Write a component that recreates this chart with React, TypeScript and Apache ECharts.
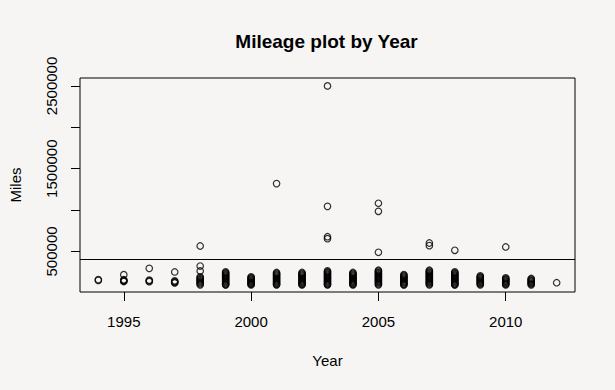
import React, { useEffect, useRef } from "react";
import * as echarts from "echarts";

const years = [1994, 1995, 1996, 1997, 1998, 1999, 2000, 2001, 2002, 2003, 2004, 2005, 2006, 2007, 2008, 2009, 2010, 2011, 2012];

const miles1994 = [160000, 150000];
const miles1995 = [219000, 158000, 150000, 143000, 137000];
const miles1996 = [296000, 153000, 145000, 135000];
const miles1997 = [252000, 145000, 135000, 127000, 119000];
const miles1998 = [566000, 324000, 264000, 194000, 182000, 170000, 158000, 146000, 134000, 122000, 110000, 97000];
const miles1999 = [254000, 243000, 232000, 221000, 210000, 199000, 188000, 177000, 166000, 155000, 144000, 133000, 122000, 111000, 100000, 97000];
const miles2000 = [194000, 184000, 174000, 164000, 154000, 144000, 134000, 124000, 114000, 104000, 97000];
const miles2001 = [1320000, 246000, 235000, 224000, 213000, 202000, 191000, 180000, 169000, 158000, 147000, 136000, 125000, 114000, 103000, 97000];
const miles2002 = [246000, 235000, 224000, 213000, 202000, 191000, 180000, 169000, 158000, 147000, 136000, 125000, 114000, 103000, 97000];
const miles2003 = [2500000, 1045000, 678000, 654000, 266000, 255000, 244000, 233000, 222000, 211000, 200000, 189000, 178000, 167000, 156000, 145000, 134000, 123000, 112000, 101000, 97000];
const miles2004 = [246000, 235000, 224000, 213000, 202000, 191000, 180000, 169000, 158000, 147000, 136000, 125000, 114000, 103000, 97000];
const miles2005 = [1082000, 985000, 490000, 273000, 262000, 251000, 240000, 229000, 218000, 207000, 196000, 185000, 174000, 163000, 152000, 141000, 130000, 119000, 108000, 97000];
const miles2006 = [221000, 210000, 199000, 188000, 177000, 166000, 155000, 144000, 133000, 122000, 111000, 100000, 97000];
const miles2007 = [602000, 570000, 273000, 262000, 251000, 240000, 229000, 218000, 207000, 196000, 185000, 174000, 163000, 152000, 141000, 130000, 119000, 108000, 97000];
const miles2008 = [514000, 254000, 243000, 232000, 221000, 210000, 199000, 188000, 177000, 166000, 155000, 144000, 133000, 122000, 111000, 100000, 97000];
const miles2009 = [206000, 195000, 184000, 173000, 162000, 151000, 140000, 129000, 118000, 107000, 97000];
const miles2010 = [554000, 182000, 171000, 160000, 149000, 138000, 127000, 116000, 105000, 97000];
const miles2011 = [173000, 162000, 151000, 140000, 129000, 118000, 107000, 97000];
const miles2012 = [122000];

const milesByYear = [
  miles1994, miles1995, miles1996, miles1997, miles1998, miles1999, miles2000,
  miles2001, miles2002, miles2003, miles2004, miles2005, miles2006, miles2007,
  miles2008, miles2009, miles2010, miles2011, miles2012,
];

const xTickValues = [1995, 2000, 2005, 2010];
const yTickValues = [500000, 1000000, 1500000, 2000000, 2500000];
const yLabelValues = [500000, 1500000, 2500000];
const referenceLine = 400000;

const FONT = "Liberation Sans, Arial, sans-serif";
const BG = "#f6f5f4";

export default function App() {
  const ref = useRef<HTMLDivElement>(null);
  useEffect(() => {
    if (!ref.current) return;
    const chart = echarts.init(ref.current, undefined, { renderer: "svg" });
    const data: [number, number][] = [];
    years.forEach((yr, i) => {
      milesByYear[i].forEach((m) => data.push([yr, m]));
    });
    chart.setOption({
      animation: false,
      backgroundColor: BG,
      grid: {
        left: 78,
        right: 40,
        top: 78,
        bottom: 98,
        show: true,
        borderColor: "#000",
        borderWidth: 1,
        backgroundColor: "transparent",
      },
      graphic: [
        {
          type: "text",
          x: 326.5,
          y: 41,
          style: {
            text: "Mileage plot by Year",
            font: `bold 19px ${FONT}`,
            fill: "#000",
            align: "center",
            verticalAlign: "middle",
          },
        },
      ],
      xAxis: {
        type: "value",
        min: 1993.28,
        max: 2012.72,
        splitLine: { show: false },
        axisLine: { show: false },
        axisTick: {
          show: true,
          length: 9,
          inside: false,
          customValues: xTickValues,
          lineStyle: { color: "#000", width: 1 },
        },
        axisLabel: {
          customValues: xTickValues,
          formatter: (v: number) => String(v),
          fontSize: 15,
          fontFamily: FONT,
          color: "#000",
          margin: 22,
        },
        name: "Year",
        nameLocation: "middle",
        nameGap: 61,
        nameTextStyle: { fontSize: 15, fontFamily: FONT, color: "#000" },
      },
      yAxis: {
        type: "value",
        min: 10000,
        max: 2596000,
        splitLine: { show: false },
        axisLine: { show: false },
        axisTick: {
          show: true,
          length: 9,
          inside: false,
          customValues: yTickValues,
          lineStyle: { color: "#000", width: 1 },
        },
        axisLabel: {
          customValues: yLabelValues,
          formatter: (v: number) => String(v),
          rotate: 90,
          fontSize: 15,
          fontFamily: FONT,
          color: "#000",
          margin: 21,
        },
        name: "Miles",
        nameLocation: "middle",
        nameGap: 57,
        nameRotate: 90,
        nameTextStyle: { fontSize: 15, fontFamily: FONT, color: "#000" },
      },
      series: [
        {
          type: "scatter",
          data,
          symbol: "circle",
          symbolSize: 6.5,
          itemStyle: {
            color: "transparent",
            borderColor: "#000",
            borderWidth: 1.2,
          },
          emphasis: { disabled: true },
          markLine: {
            silent: true,
            symbol: ["none", "none"],
            label: { show: false },
            lineStyle: { color: "#000", width: 1, type: "solid" },
            data: [{ yAxis: referenceLine }],
          },
        },
      ],
    });
    return () => chart.dispose();
  }, []);
  return (
    <div
      ref={ref}
      style={{ position: "fixed", left: 0, top: 0, width: 615, height: 390, background: BG }}
    />
  );
}
